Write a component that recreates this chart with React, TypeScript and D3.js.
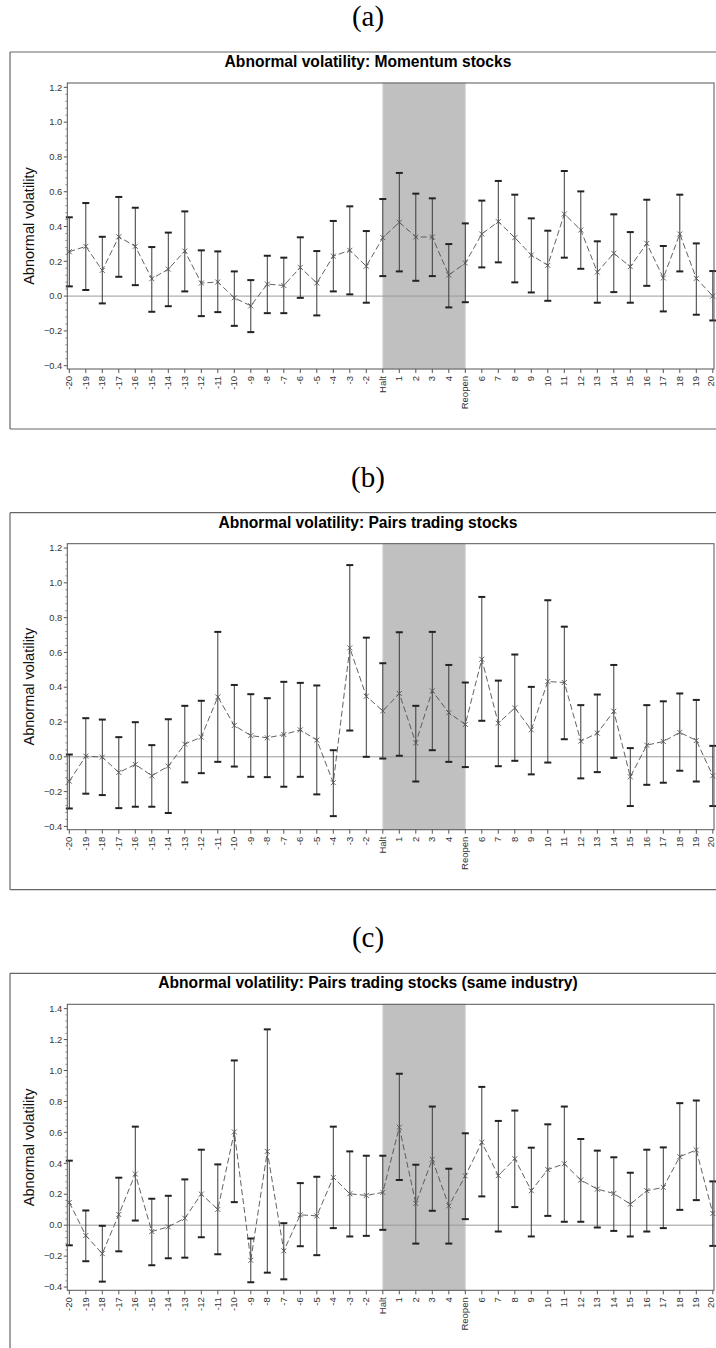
import React from "react";
import * as d3 from "d3";

// event-day categories (day -1 is the halt, day 5 is the reopen)
const days = [
  "-20", "-19", "-18", "-17", "-16", "-15", "-14", "-13", "-12", "-11",
  "-10", "-9", "-8", "-7", "-6", "-5", "-4", "-3", "-2", "Halt",
  "1", "2", "3", "4", "Reopen", "6", "7", "8", "9", "10",
  "11", "12", "13", "14", "15", "16", "17", "18", "19", "20",
];

// (a) momentum stocks
const momMean = [0.255, 0.286, 0.148, 0.341, 0.286, 0.100, 0.155, 0.259, 0.075, 0.081,
  -0.010, -0.056, 0.069, 0.061, 0.165, 0.075, 0.230, 0.263, 0.172, 0.336,
  0.424, 0.340, 0.340, 0.121, 0.190, 0.357, 0.428, 0.336, 0.236, 0.177,
  0.472, 0.380, 0.138, 0.246, 0.169, 0.303, 0.104, 0.357, 0.102, 0.000];
const momUpper = [0.453, 0.535, 0.341, 0.570, 0.508, 0.282, 0.365, 0.487, 0.263, 0.257,
  0.142, 0.092, 0.232, 0.221, 0.338, 0.259, 0.432, 0.516, 0.374, 0.558,
  0.708, 0.589, 0.562, 0.299, 0.418, 0.549, 0.662, 0.583, 0.447, 0.376,
  0.719, 0.602, 0.315, 0.470, 0.368, 0.554, 0.288, 0.583, 0.303, 0.144];
const momLower = [0.056, 0.035, -0.042, 0.111, 0.063, -0.090, -0.058, 0.027, -0.115, -0.092,
  -0.171, -0.207, -0.098, -0.098, -0.010, -0.111, 0.027, 0.010, -0.038, 0.115,
  0.142, 0.088, 0.115, -0.065, -0.035, 0.165, 0.194, 0.079, 0.021, -0.027,
  0.221, 0.157, -0.038, 0.023, -0.038, 0.059, -0.088, 0.142, -0.107, -0.140];

// (b) pairs trading stocks
const pairMean = [-0.140, 0.004, -0.002, -0.090, -0.044, -0.109, -0.054, 0.073, 0.113, 0.344,
  0.180, 0.122, 0.109, 0.128, 0.155, 0.096, -0.149, 0.626, 0.348, 0.264,
  0.364, 0.080, 0.379, 0.253, 0.186, 0.561, 0.193, 0.281, 0.155, 0.433,
  0.427, 0.090, 0.136, 0.262, -0.115, 0.067, 0.088, 0.140, 0.094, -0.109];
const pairUpper = [0.013, 0.222, 0.214, 0.113, 0.199, 0.067, 0.216, 0.293, 0.322, 0.718,
  0.413, 0.360, 0.337, 0.431, 0.425, 0.410, 0.038, 1.102, 0.685, 0.538,
  0.716, 0.293, 0.718, 0.528, 0.427, 0.919, 0.438, 0.588, 0.402, 0.900,
  0.748, 0.297, 0.358, 0.528, 0.050, 0.297, 0.319, 0.364, 0.327, 0.063];
const pairLower = [-0.297, -0.212, -0.220, -0.295, -0.287, -0.287, -0.323, -0.147, -0.094, -0.029,
  -0.056, -0.115, -0.117, -0.172, -0.115, -0.216, -0.341, 0.151, 0.000, -0.010,
  0.006, -0.142, 0.038, -0.029, -0.059, 0.207, -0.054, -0.023, -0.101, -0.033,
  0.101, -0.124, -0.088, -0.006, -0.283, -0.161, -0.149, -0.080, -0.142, -0.283];

// (c) pairs trading stocks, same industry
const indMean = [0.147, -0.067, -0.184, 0.069, 0.331, -0.041, -0.011, 0.045, 0.201, 0.102,
  0.603, -0.227, 0.477, -0.166, 0.067, 0.060, 0.309, 0.203, 0.192, 0.212,
  0.633, 0.140, 0.426, 0.125, 0.318, 0.536, 0.320, 0.430, 0.223, 0.359,
  0.397, 0.292, 0.233, 0.205, 0.136, 0.223, 0.244, 0.443, 0.486, 0.076];
const indUpper = [0.417, 0.095, -0.004, 0.307, 0.637, 0.171, 0.190, 0.296, 0.488, 0.393,
  1.065, -0.086, 1.266, 0.013, 0.272, 0.313, 0.637, 0.477, 0.449, 0.449,
  0.979, 0.391, 0.767, 0.365, 0.594, 0.894, 0.674, 0.741, 0.501, 0.652,
  0.767, 0.557, 0.482, 0.439, 0.339, 0.488, 0.503, 0.789, 0.806, 0.283];
const indLower = [-0.130, -0.233, -0.365, -0.169, 0.030, -0.259, -0.214, -0.210, -0.078, -0.188,
  0.149, -0.369, -0.307, -0.350, -0.136, -0.194, -0.019, -0.073, -0.069, -0.030,
  0.292, -0.119, 0.093, -0.119, 0.039, 0.186, -0.041, 0.117, -0.073, 0.060,
  0.022, 0.022, -0.015, -0.037, -0.073, -0.041, -0.019, 0.099, 0.162, -0.134];

const ticksAB = [-0.4, -0.2, 0, 0.2, 0.4, 0.6, 0.8, 1.0, 1.2];
const ticksC = [-0.4, -0.2, 0, 0.2, 0.4, 0.6, 0.8, 1.0, 1.2, 1.4];

const sans = "'Liberation Sans', Arial, sans-serif";

function Panel({top, caption, title, mean, upper, lower, domain, ticks}) {
  const plotTop = top + 31, plotBottom = top + 317;
  const plotLeft = 67.3, plotRight = 714;

  const x = d3.scalePoint().domain(days).range([69.3, 712.8]);
  const y = d3.scaleLinear().domain(domain).range([plotBottom, plotTop]);

  const minor = d3.range(Math.round(ticks[0] * 100), Math.round(ticks[ticks.length - 1] * 100) + 1, 4)
    .map(v => v / 100)
    .filter(v => !ticks.some(t => Math.abs(t - v) < 1e-6));

  const line = d3.line().x((d, i) => x(days[i])).y(d => y(d));

  return (
    <g>
      <text x={368} y={top - 26} textAnchor="middle"
            style={{fontFamily: "'Liberation Serif', 'DejaVu Serif', serif", fontSize: 29}}>{caption}</text>
      <line x1={10} x2={10} y1={top} y2={top + 377} stroke="#666" strokeWidth={1.2}/>
      <line x1={10} x2={720} y1={top} y2={top} stroke="#666" strokeWidth={1.2}/>
      <line x1={10} x2={720} y1={top + 377} y2={top + 377} stroke="#666" strokeWidth={1.2}/>
      <text x={368} y={top + 15} textAnchor="middle"
            style={{fontFamily: sans, fontSize: 15.6, fontWeight: "bold"}}>{title}</text>

      {/* halt period */}
      <rect x={x("Halt")} y={plotTop} width={x("Reopen") - x("Halt")} height={plotBottom - plotTop}
            fill="#c0c0c0" stroke="#d6d6d6" strokeWidth={1}/>
      <line x1={plotLeft} x2={plotRight} y1={y(0)} y2={y(0)} stroke="#9a9a9a" strokeWidth={1}/>

      {/* error bars */}
      {days.map((d, i) => (
        <g key={d}>
          <line x1={x(d)} x2={x(d)} y1={y(upper[i])} y2={y(lower[i])} stroke="#3a3a3a" strokeWidth={1}/>
          <line x1={x(d) - 3.5} x2={x(d) + 3.5} y1={y(upper[i])} y2={y(upper[i])} stroke="#222" strokeWidth={2}/>
          <line x1={x(d) - 3.5} x2={x(d) + 3.5} y1={y(lower[i])} y2={y(lower[i])} stroke="#222" strokeWidth={2}/>
        </g>
      ))}

      <path d={line(mean)} fill="none" stroke="#505050" strokeWidth={0.9} strokeDasharray="6,3"/>
      {days.map((d, i) => (
        <path key={d} d={`M${x(d) - 2.5},${y(mean[i]) - 2.5}L${x(d) + 2.5},${y(mean[i]) + 2.5}M${x(d) - 2.5},${y(mean[i]) + 2.5}L${x(d) + 2.5},${y(mean[i]) - 2.5}`}
              stroke="#555" strokeWidth={0.9} fill="none"/>
      ))}

      <rect x={plotLeft} y={plotTop} width={plotRight - plotLeft} height={plotBottom - plotTop}
            fill="none" stroke="#555" strokeWidth={1}/>

      {/* y axis */}
      {minor.map(v => (
        <line key={v} x1={plotLeft - 2} x2={plotLeft} y1={y(v)} y2={y(v)} stroke="#777" strokeWidth={0.8}/>
      ))}
      {ticks.map(t => (
        <g key={t}>
          <line x1={plotLeft - 3.5} x2={plotLeft} y1={y(t)} y2={y(t)} stroke="#555" strokeWidth={1}/>
          <text x={plotLeft - 5} y={y(t) + 3.2} textAnchor="end"
                style={{fontFamily: sans, fontSize: 9.3, fill: "#333"}}>{d3.format(".1f")(t)}</text>
        </g>
      ))}
      <text transform={`translate(34,${top + 174}) rotate(-90)`} textAnchor="middle"
            style={{fontFamily: sans, fontSize: 14.5, fill: "#111"}}>Abnormal volatility</text>

      {/* x axis */}
      {days.map(d => (
        <g key={d}>
          <line x1={x(d)} x2={x(d)} y1={plotBottom} y2={plotBottom + 4} stroke="#555" strokeWidth={1}/>
          <text transform={`translate(${Math.min(x(d) + 3, 713.6)},${plotBottom + 7}) rotate(-90)`} textAnchor="end"
                style={{fontFamily: sans, fontSize: 9.5, fill: "#333"}}>{d}</text>
        </g>
      ))}
    </g>
  );
}

export default function App() {
  return (
    <svg width={716} height={1348} style={{position: "absolute", left: 0, top: 0, background: "#fff"}}>
      <Panel top={52} caption="(a)" title="Abnormal volatility: Momentum stocks"
             mean={momMean} upper={momUpper} lower={momLower} domain={[-0.419, 1.225]} ticks={ticksAB}/>
      <Panel top={512.7} caption="(b)" title="Abnormal volatility: Pairs trading stocks"
             mean={pairMean} upper={pairUpper} lower={pairLower} domain={[-0.419, 1.225]} ticks={ticksAB}/>
      <Panel top={973.3} caption="(c)" title="Abnormal volatility: Pairs trading stocks (same industry)"
             mean={indMean} upper={indUpper} lower={indLower} domain={[-0.421, 1.428]} ticks={ticksC}/>
    </svg>
  );
}
